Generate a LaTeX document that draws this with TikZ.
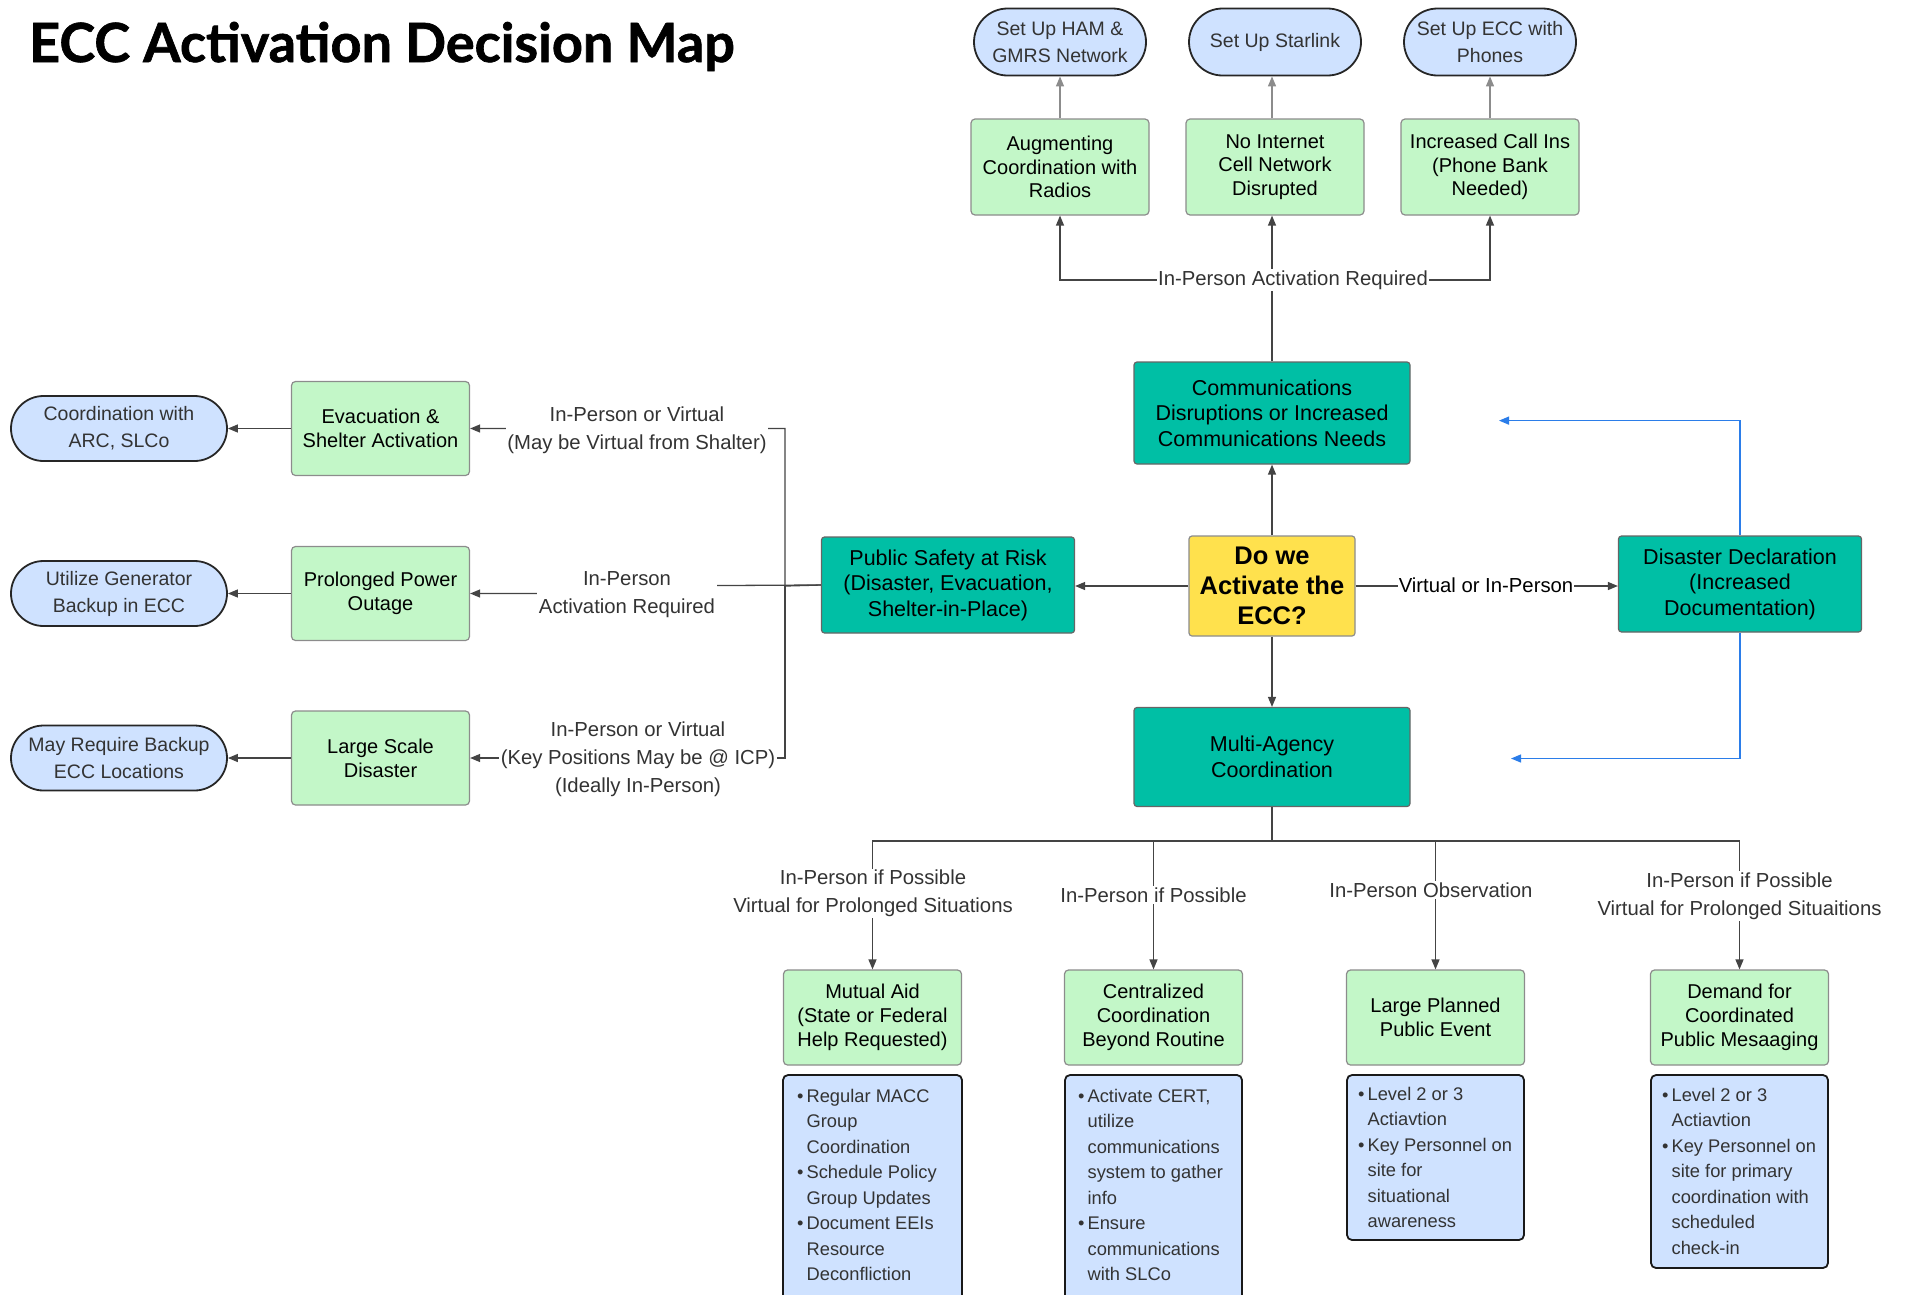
\documentclass[tikz,border=0pt]{standalone}
\usepackage{fontspec}
\setmainfont{Liberation Sans}
\newfontfamily\titlefont{Lato}[BoldFeatures={FakeBold=1.2}]
\usetikzlibrary{arrows.meta,shapes.misc,calc}
\definecolor{tealbox}{HTML}{00BFA5}
\definecolor{greenbox}{HTML}{C3F7C8}
\definecolor{bluebox}{HTML}{CFE2FF}
\definecolor{yelbox}{HTML}{FFE14D}
\definecolor{arrblue}{HTML}{2B7DE9}
\definecolor{txtgray}{HTML}{333333}
\definecolor{linegray}{HTML}{444444}
\newcommand{\fpill}{\fontsize{19.5}{27}\selectfont}
\newcommand{\fgreen}{\fontsize{20}{23.7}\selectfont}
\newcommand{\fteal}{\fontsize{21.5}{25.5}\selectfont}
\newcommand{\fyel}{\fontsize{25.5}{30}\selectfont\bfseries}
\newcommand{\flabel}{\fontsize{20.3}{28}\selectfont}
\newcommand{\fbull}{\fontsize{18.3}{25.5}\selectfont}
\newcommand{\bitem}{\textbullet}
\begin{document}
\begin{tikzpicture}[x=1pt,y=-1pt,
  pill/.style={rounded rectangle, fill=bluebox, draw=black!85, line width=1.8pt,
    font=\fpill, text=txtgray, align=center, inner sep=0pt,
    minimum width=172pt, minimum height=67pt},
  gbox/.style={rectangle, rounded corners=4pt, fill=greenbox, draw=black!45, line width=1.2pt,
    font=\fgreen, text=black, align=center, inner sep=0pt,
    minimum width=178pt, minimum height=96pt},
  tbox/.style={rectangle, rounded corners=3pt, fill=tealbox, draw=black!60, line width=1.2pt,
    font=\fteal, text=black, align=center, inner sep=0pt},
  ybox/.style={rectangle, rounded corners=3pt, fill=yelbox, draw=black!45, line width=1.2pt,
    font=\fyel, text=black, align=center, inner sep=0pt},
  bbox/.style={rectangle, rounded corners=5pt, fill=bluebox, draw=black!90, line width=1.8pt},
  btext/.style={anchor=north west, inner sep=0pt, font=\fbull, text=txtgray},
  lbl/.style={fill=white, inner sep=1.5pt, font=\flabel, text=txtgray, align=center},
  conn/.style={draw=linegray, line width=1.3pt},
  arr/.style={conn, -{Triangle[length=10pt,width=8pt]}},
  arrlight/.style={draw=black!45, line width=1.3pt, -{Triangle[length=10pt,width=8pt]}},
  barr/.style={draw=arrblue, line width=1.3pt, -{Triangle[length=10pt,width=8pt]}}
]
\useasboundingbox (0,0) rectangle (1906,1294);
\clip (0,0) rectangle (1906,1294);

% title
\node[anchor=base west, inner sep=0pt, font=\titlefont\fontsize{54}{64}\selectfont\bfseries] (title) at (29,62) {ECC Activation Decision Map};

% top pills
\node[pill] (ham) at (1060,42) {Set Up HAM \&\\GMRS Network};
\node[pill] (star) at (1275,42) {Set Up Starlink};
\node[pill] (phones) at (1490,42) {Set Up ECC with\\Phones};

% top green boxes
\node[gbox] (aug) at (1060,167) {Augmenting\\Coordination with\\Radios};
\node[gbox] (noint) at (1275,167) {No Internet\\Cell Network\\Disrupted};
\node[gbox] (calls) at (1490,167) {Increased Call Ins\\(Phone Bank\\Needed)};

% central
\node[tbox, minimum width=276pt, minimum height=102pt] (comms) at (1272,413) {Communications\\Disruptions or Increased\\Communications Needs};
\node[ybox, minimum width=166pt, minimum height=100pt] (q) at (1272,586) {Do we\\Activate the\\ECC?};
\node[tbox, minimum width=253pt, minimum height=96pt] (ps) at (948,585) {Public Safety at Risk\\(Disaster, Evacuation,\\Shelter-in-Place)};
\node[tbox, minimum width=243pt, minimum height=96pt] (decl) at (1740,584) {Disaster Declaration\\(Increased\\Documentation)};
\node[tbox, minimum width=276pt, minimum height=99pt] (multi) at (1272,757) {Multi-Agency\\Coordination};

% left side
\node[gbox, minimum height=94pt] (evac) at (380.5,428.5) {Evacuation \&\\Shelter Activation};
\node[gbox, minimum height=94pt] (power) at (380.5,593.5) {Prolonged Power\\Outage};
\node[gbox, minimum height=94pt] (large) at (380.5,758) {Large Scale\\Disaster};
\node[pill, minimum width=216pt, minimum height=65pt] (arc) at (119,428.5) {Coordination with\\ARC, SLCo};
\node[pill, minimum width=216pt, minimum height=65pt] (gen) at (119,593.5) {Utilize Generator\\Backup in ECC};
\node[pill, minimum width=216pt, minimum height=65pt] (backup) at (119,758) {May Require Backup\\ECC Locations};

% bottom green boxes
\node[gbox, minimum height=95pt] (mutual) at (872.5,1017.5) {Mutual Aid\\(State or Federal\\Help Requested)};
\node[gbox, minimum height=95pt] (central) at (1153.5,1017.5) {Centralized\\Coordination\\Beyond Routine};
\node[gbox, minimum height=95pt] (planned) at (1435.5,1017.5) {Large Planned\\Public Event};
\node[gbox, minimum height=95pt] (demand) at (1739.5,1017.5) {Demand for\\Coordinated\\Public Mesaaging};

% bullet boxes
\draw[bbox] (783,1075) rectangle (962,1320);
\draw[bbox] (1065,1075) rectangle (1242,1320);
\draw[bbox] (1347,1075) rectangle (1524,1240);
\draw[bbox] (1651,1075) rectangle (1828,1268);
\node[btext] (t1) at (797,1084) {\begin{tabular}{@{}l@{\hspace{3pt}}l@{}}
\bitem & Regular MACC\\ & Group\\ & Coordination\\
\bitem & Schedule Policy\\ & Group Updates\\
\bitem & Document EEIs\\ & Resource\\ & Deconfliction\end{tabular}};
\node[btext] (t2) at (1078,1084) {\begin{tabular}{@{}l@{\hspace{3pt}}l@{}}
\bitem & Activate CERT,\\ & utilize\\ & communications\\ & system to gather\\ & info\\
\bitem & Ensure\\ & communications\\ & with SLCo\end{tabular}};
\node[btext] (t3) at (1358,1082) {\begin{tabular}{@{}l@{\hspace{3pt}}l@{}}
\bitem & Level 2 or 3\\ & Actiavtion\\
\bitem & Key Personnel on\\ & site for\\ & situational\\ & awareness\end{tabular}};
\node[btext] (t4) at (1662,1083) {\begin{tabular}{@{}l@{\hspace{3pt}}l@{}}
\bitem & Level 2 or 3\\ & Actiavtion\\
\bitem & Key Personnel on\\ & site for primary\\ & coordination with\\ & scheduled\\ & check-in\end{tabular}};

% connectors: top
\coordinate (tj) at (1272,280);
\draw[conn] (comms.north) -- (tj);
\draw[arr] (tj) -| (aug.south);
\draw[arr] (tj) -| (calls.south);
\draw[arr] (tj) -- (tj |- noint.south);
\draw[arrlight] (aug.north) -- (ham.south);
\draw[arrlight] (noint.north -| tj) -- (star.south -| tj);
\draw[arrlight] (calls.north) -- (phones.south);

% connectors: centre
\draw[arr] (q.north) -- (comms.south);
\draw[arr] (q.south) -- (multi.north);
\draw[arr] (q.west) -- (q.west -| ps.east);
\draw[arr] (q.east) -- (q.east -| decl.west);
\coordinate (bt1) at (1499,420.6);
\coordinate (bt2) at (1511,758.5);
\draw[barr] (decl.north) |- (bt1);
\draw[barr] (decl.south) |- (bt2);

% connectors: left
\coordinate (brk) at (785,586);
\coordinate (jm) at (627,586);
\draw[arr] (ps.west) -- (brk) |- (evac.east);
\draw[arr] (brk) |- (large.east);
\draw[arr] (ps.west) -- (jm) |- (power.east);
\draw[arr] (evac.west) -- (arc.east);
\draw[arr] (power.west) -- (gen.east);
\draw[arr] (large.west) -- (backup.east);

% connectors: bottom
\coordinate (bj) at (1272,841);
\draw[conn] (multi.south) -- (bj);
\draw[arr] (bj) -| (mutual.north);
\draw[arr] (bj) -| (central.north);
\draw[arr] (bj) -| (planned.north);
\draw[arr] (bj) -| (demand.north);

% labels
\node[lbl] (ltop) at (1293,280) {In-Person Activation Required};
\node[lbl, text=black, inner sep=1pt] (lv) at (1486,585) {Virtual or In-Person};
\node[lbl] (lt) at (637,430) {In-Person or Virtual\\(May be Virtual from Shalter)};
\node[lbl] (lm) at (627,595) {In-Person\\Activation Required};
\node[lbl] (lb) at (638,759.5) {In-Person or Virtual\\(Key Positions May be @ ICP)\\(Ideally In-Person)};
\node[lbl] (b1) at (873,893.5) {In-Person if Possible\\Virtual for Prolonged Situations};
\node[lbl] (b2) at (1153.5,895) {In-Person if Possible};
\node[lbl] (b3) at (1431,890) {In-Person Observation};
\node[lbl] (b4) at (1739.5,896) {In-Person if Possible\\Virtual for Prolonged Situaitions};
\end{tikzpicture}
\end{document}
